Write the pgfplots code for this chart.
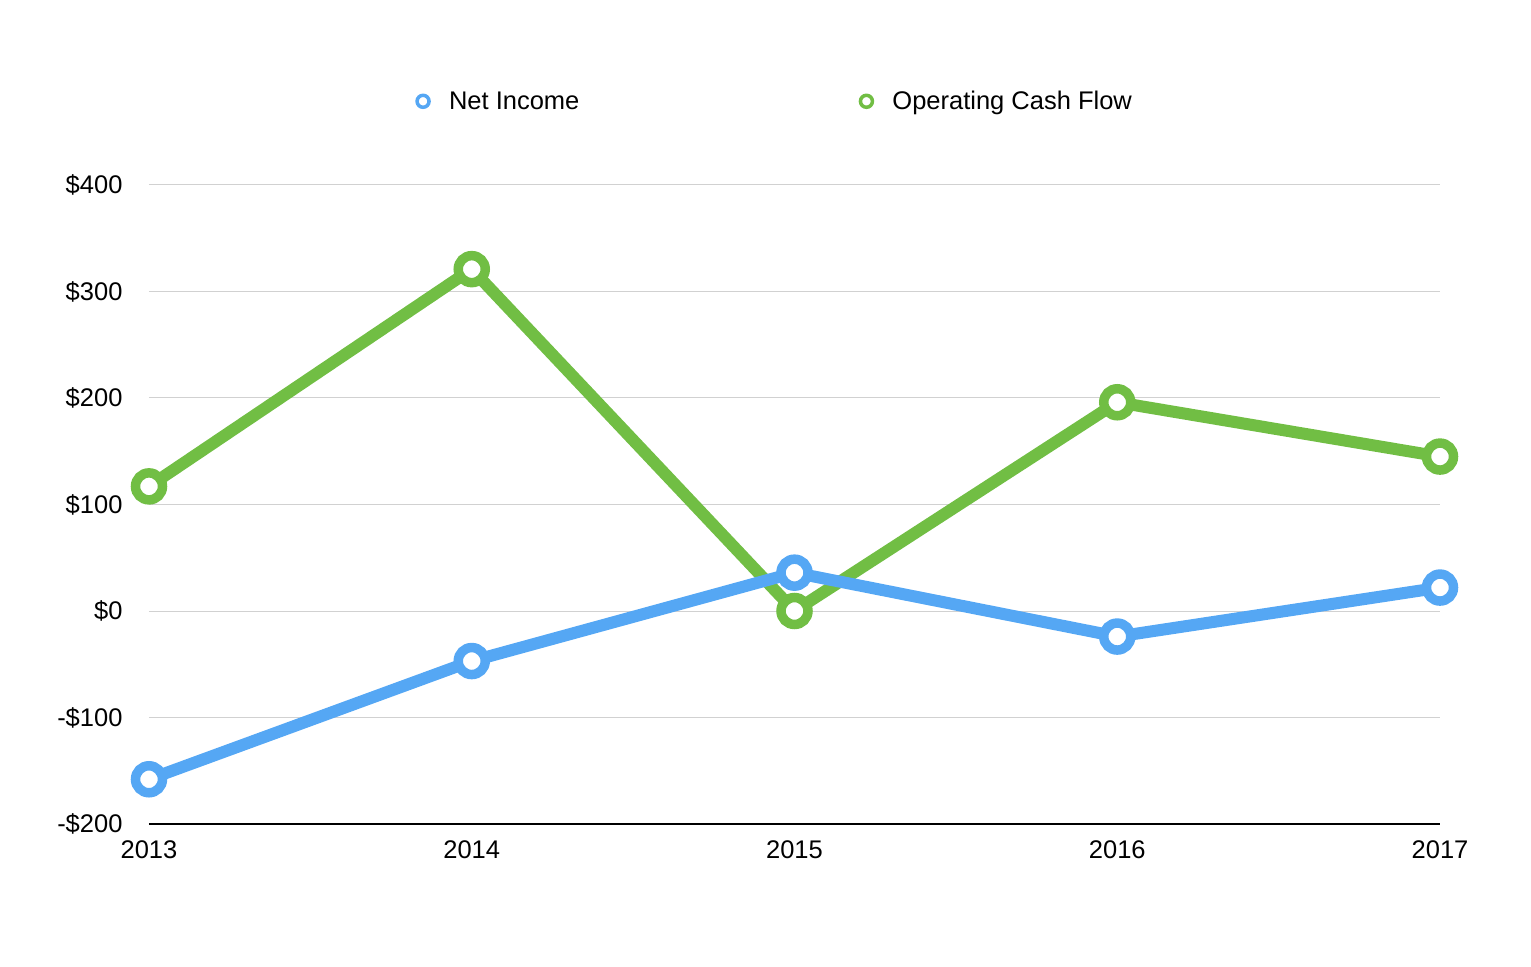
\documentclass[border=0pt]{standalone}
\usepackage{pgfplots}
\pgfplotsset{compat=1.18}
\usepackage{fontspec}
\setmainfont{Liberation Sans}
\definecolor{niblue}{RGB}{85,167,244}
\definecolor{ocfgreen}{RGB}{113,190,68}
\begin{document}
\begin{tikzpicture}
\begin{axis}[
  scale only axis,
  width=1291bp, height=639bp,
  xmin=2013, xmax=2017,
  ymin=-200, ymax=400,
  xtick={2013,2014,2015,2016,2017},
  ytick={-200,-100,0,100,200,300,400},
  xticklabels={2013,2014,2015,2016,2017},
  yticklabels={-\$200,-\$100,\$0,\$100,\$200,\$300,\$400},
  font=\fontsize{25.5bp}{30bp}\selectfont,
  tick label style={font=\fontsize{25.5bp}{30bp}\selectfont},
  yticklabel style={xshift=-23bp},
  xticklabel style={yshift=-13bp},
  ymajorgrids,
  grid style={draw=black!18, line width=1bp},
  axis x line*=bottom,
  axis y line*=left,
  y axis line style={draw=none},
  x axis line style={line width=2.5bp, -},
  major tick length=0pt,
  tick style={draw=none},
  clip=false,
  reverse legend,
  legend columns=2,
  legend style={draw=none, fill=none, at={(0.4822,1.131)}, anchor=center,
    font=\fontsize{25.5bp}{30bp}\selectfont,
    /tikz/every even column/.append style={column sep=271bp}},
  legend image code/.code={\draw[#1, line width=3.5bp, fill=white] (0bp,0bp) circle (6bp);
     \path (-8bp,0bp) (18bp,0bp);},
]
\addplot[color=ocfgreen, line width=12bp, mark=*, mark size=13.5bp,
  mark options={fill=white, line width=9.5bp, draw=ocfgreen}]
  coordinates {(2013,117) (2014,321) (2015,0) (2016,196) (2017,145)};
\addlegendentry{Operating Cash Flow}
\addplot[color=niblue, line width=12bp, mark=*, mark size=13.5bp,
  mark options={fill=white, line width=9.5bp, draw=niblue}]
  coordinates {(2013,-158) (2014,-47) (2015,36) (2016,-24) (2017,22)};
\addlegendentry{Net Income}
\end{axis}
\path (-149bp,-143bp) rectangle (1382bp,824bp);
\end{tikzpicture}
\end{document}
